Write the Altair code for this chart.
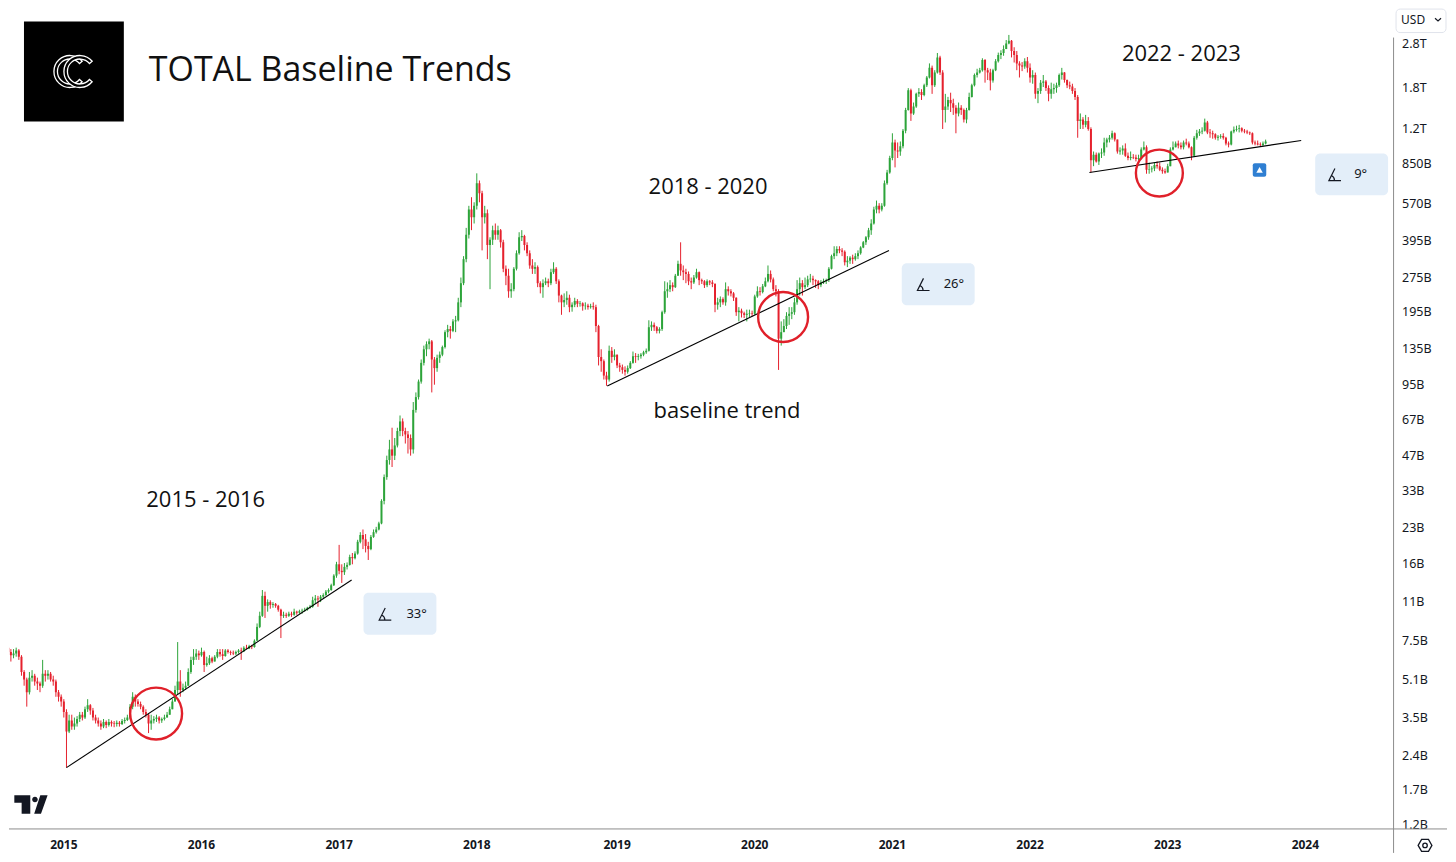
import altair as alt
import pandas as pd

# Weekly TOTAL crypto market cap candles, in billions of USD.
# Each year's lists start on that year's first weekly bar; open = previous close.
first_open = 7.9

close_2014 = [7.0, 6.7, 6.5, 6.6, 6.8, 6.4, 5.5, 5.1, 4.5, 5.2, 5.3, 5.0, 4.9, 4.8, 5.4,
              5.3, 5.4, 5.1, 5.0, 4.5, 4.3, 4.1]
high_2014 = [8.0, 7.1, 6.9, 6.9, 7.0, 6.9, 6.5, 5.6, 5.2, 5.5, 5.6, 5.4, 5.2, 5.0, 6.2,
             5.6, 5.6, 5.5, 5.3, 5.1, 4.6, 4.4]
low_2014 = [6.8, 6.5, 6.1, 6.3, 6.4, 6.2, 5.3, 4.8, 3.9, 4.4, 5.0, 4.8, 4.6, 4.5, 4.7,
            5.0, 5.1, 5.0, 4.8, 4.3, 4.1, 3.9]

close_2015 = [3.7, 3.05, 3.4, 3.2, 3.3, 3.45, 3.6, 3.5, 3.8, 3.95, 3.75, 3.5, 3.4,
              3.3, 3.2, 3.35, 3.25, 3.35, 3.3, 3.28, 3.32, 3.28, 3.38, 3.42, 3.5, 3.9,
              4.3, 4.1, 4.0, 3.9, 3.7, 3.6, 3.3, 3.4, 3.45, 3.5, 3.4, 3.45, 3.5,
              3.6, 3.8, 4.1, 4.6, 5.0, 4.6, 4.7, 4.8, 5.5, 6.2, 6.4, 6.6, 6.5]
high_2015 = [4.2, 3.8, 3.6, 3.6, 3.5, 3.55, 3.7, 3.7, 3.9, 4.2, 4.0, 3.85, 3.6,
             3.5, 3.4, 3.45, 3.4, 3.45, 3.4, 3.38, 3.4, 3.38, 3.45, 3.5, 3.6, 4.0,
             4.5, 4.4, 4.2, 4.1, 3.95, 3.8, 3.65, 3.6, 3.55, 3.6, 3.55, 3.5, 3.6,
             3.7, 3.9, 4.2, 4.8, 7.4, 5.6, 4.9, 5.0, 5.7, 6.4, 6.9, 6.9, 6.8]
low_2015 = [3.5, 2.13, 3.0, 3.1, 3.1, 3.2, 3.35, 3.4, 3.45, 3.7, 3.6, 3.4, 3.3,
            3.2, 3.1, 3.15, 3.15, 3.2, 3.2, 3.18, 3.2, 3.2, 3.25, 3.3, 3.38, 3.45,
            3.8, 3.9, 3.9, 3.8, 3.6, 3.5, 3.0, 3.1, 3.3, 3.35, 3.3, 3.32, 3.4,
            3.5, 3.6, 3.8, 4.1, 4.4, 4.3, 4.5, 4.6, 4.8, 5.4, 5.9, 6.2, 6.2]

close_2016 = [6.7, 5.9, 6.0, 6.3, 6.1, 6.4, 6.7, 6.55, 6.45, 6.8, 6.7, 6.65, 6.6,
              6.7, 6.8, 6.75, 7.0, 6.95, 7.1, 7.05, 7.5, 8.6, 9.6, 11.7, 10.6, 11.0,
              10.7, 10.8, 10.6, 10.2, 9.6, 9.7, 9.6, 9.8, 9.7, 10.0, 9.9, 10.05, 10.1,
              10.2, 10.4, 10.5, 11.2, 11.4, 11.3, 11.6, 11.8, 12.2, 12.4, 13.0, 14.3, 16.0]
high_2016 = [7.0, 6.8, 6.4, 6.5, 6.4, 6.5, 6.9, 6.9, 6.9, 6.9, 6.9, 6.8, 6.8,
             6.8, 6.9, 7.0, 7.1, 7.2, 7.2, 7.2, 7.6, 8.9, 10.0, 12.4, 12.2, 11.3,
             11.2, 11.0, 10.9, 10.7, 10.3, 10.0, 9.9, 10.0, 10.0, 10.3, 10.1, 10.2, 10.3,
             10.4, 10.5, 10.7, 11.6, 11.8, 11.7, 11.8, 12.0, 12.4, 12.6, 13.2, 14.5, 16.4]
low_2016 = [6.4, 5.5, 5.8, 5.9, 6.0, 6.1, 6.3, 6.4, 6.2, 6.4, 6.6, 6.5, 6.5,
            6.5, 6.6, 6.2, 6.7, 6.9, 6.9, 6.9, 7.0, 7.5, 8.5, 9.5, 9.4, 10.0,
            10.3, 10.4, 10.4, 10.0, 7.7, 9.4, 9.4, 9.5, 9.5, 9.6, 9.7, 9.8, 9.8,
            10.0, 10.1, 10.3, 10.4, 10.8, 10.5, 11.0, 11.4, 11.7, 12.0, 12.3, 12.9, 14.0]

close_2017 = [15.0, 14.8, 15.6, 15.9, 17.2, 17.0, 17.8, 20.0, 21.4, 20.5, 19.2, 18.6, 21.0,
              22.0, 22.6, 24.0, 30.0, 38, 45, 50, 47, 52, 60, 66, 60, 58,
              56, 50, 74, 84, 98, 118, 135, 142, 146, 122, 112, 124, 128,
              138, 160, 165, 162, 178, 180, 215, 260, 330, 420, 540, 500, 560]
high_2017 = [19.4, 16.0, 16.2, 16.3, 17.6, 17.9, 18.2, 20.4, 22.0, 22.6, 21.6, 20.0, 21.4,
             22.6, 23.2, 24.4, 30.5, 39, 47, 55, 62, 56, 62, 70, 68, 62,
             60, 58, 80, 88, 100, 122, 140, 146, 150, 148, 125, 128, 132,
             140, 163, 172, 170, 182, 188, 225, 275, 340, 450, 560, 610, 580]
low_2017 = [14.5, 13.3, 14.4, 15.2, 15.8, 16.0, 16.8, 17.6, 19.7, 18.6, 18.0, 16.7, 18.4,
            20.8, 21.7, 22.4, 23.8, 29, 37, 43, 42, 45, 51, 57, 57, 53,
            48, 47, 48, 72, 82, 96, 115, 126, 135, 88, 95, 108, 118,
            126, 136, 152, 150, 160, 160, 178, 205, 255, 320, 405, 440, 470]

close_2018 = [700, 634, 500, 520, 380, 400, 440, 420, 440, 390, 300, 280, 240,
              245, 300, 350, 410, 415, 380, 350, 310, 300, 305, 260, 250, 260,
              265, 260, 290, 300, 265, 230, 215, 220, 225, 205, 210, 218, 212,
              213, 207, 208, 205, 207, 205, 170, 125, 120, 104, 100, 133, 125, 128]
high_2018 = [773, 720, 650, 560, 540, 410, 460, 470, 460, 445, 400, 310, 300,
             260, 305, 360, 431, 440, 420, 390, 360, 330, 320, 310, 265, 270,
             275, 272, 300, 320, 305, 270, 232, 235, 240, 232, 215, 225, 222,
             218, 215, 215, 212, 212, 215, 210, 172, 135, 122, 108, 140, 138, 135]
low_2018 = [540, 580, 360, 470, 330, 245, 380, 400, 400, 370, 290, 255, 225,
            225, 240, 295, 345, 395, 360, 340, 300, 285, 285, 250, 235, 225,
            255, 250, 255, 285, 258, 215, 190, 205, 210, 195, 196, 205, 205,
            206, 198, 200, 200, 202, 200, 160, 115, 108, 100, 94, 98, 118, 121]

close_2019 = [115, 113, 110, 108, 112, 118, 126, 125, 126, 128, 131, 133,
              168, 172, 168, 162, 165, 195, 240, 245, 255, 250, 280, 315, 295,
              290, 285, 265, 262, 275, 290, 268, 265, 255, 265, 262, 258, 210, 215,
              222, 215, 245, 240, 235, 225, 195, 198, 193, 190, 192, 193, 192]
high_2019 = [128, 118, 116, 114, 115, 120, 132, 130, 129, 130, 133, 136,
             180, 178, 176, 170, 168, 198, 265, 262, 268, 262, 285, 325, 390,
             310, 300, 292, 275, 282, 300, 292, 272, 268, 270, 268, 268, 260, 225,
             228, 226, 262, 252, 245, 238, 226, 205, 202, 196, 200, 200, 198]
low_2019 = [112, 108, 106, 104, 106, 111, 117, 118, 121, 123, 126, 129,
            132, 162, 162, 158, 158, 162, 192, 225, 238, 240, 248, 280, 280,
            268, 260, 255, 245, 258, 272, 255, 258, 248, 250, 255, 250, 195, 200,
            205, 210, 208, 230, 228, 218, 188, 178, 185, 184, 178, 186, 187]

close_2020 = [228, 240, 238, 252, 265, 285, 270, 245, 240, 150, 160, 170, 188,
              192, 195, 215, 245, 260, 250, 255, 270, 272, 268, 265, 255, 262,
              265, 268, 300, 340, 350, 365, 360, 355, 320, 325, 335, 330, 340,
              350, 370, 390, 410, 440, 470, 540, 560, 540, 560, 700, 780, 900]
high_2020 = [232, 252, 250, 258, 275, 310, 295, 275, 255, 245, 178, 182, 195,
             205, 205, 225, 268, 275, 268, 275, 280, 285, 280, 270, 268, 268,
             272, 272, 305, 345, 375, 375, 375, 368, 360, 340, 340, 345, 350,
             360, 375, 395, 415, 450, 490, 555, 590, 575, 575, 720, 800, 920]
low_2020 = [190, 225, 230, 235, 250, 262, 262, 240, 228, 110, 140, 160, 165,
            172, 182, 190, 210, 230, 230, 245, 250, 262, 255, 248, 245, 250,
            258, 258, 263, 298, 330, 340, 350, 340, 310, 305, 315, 315, 325,
            330, 345, 368, 380, 400, 420, 465, 520, 520, 530, 555, 690, 770]

close_2021 = [1050, 970, 960, 1010, 1180, 1450, 1760, 1400, 1500, 1700, 1730, 1680, 1850,
              2000, 2200, 1850, 2100, 2440, 2100, 1450, 1500, 1600, 1550, 1480, 1400, 1480,
              1450, 1320, 1450, 1650, 1850, 2050, 2100, 2150, 2380, 2150, 2100, 1940, 2150,
              2350, 2500, 2550, 2650, 2800, 2880, 2600, 2500, 2300, 2250, 2230, 2350, 2200]
high_2021 = [1150, 1080, 1050, 1060, 1200, 1480, 1800, 1790, 1560, 1720, 1800, 1780, 1880,
             2030, 2300, 2250, 2150, 2550, 2480, 2150, 1700, 1650, 1720, 1620, 1520, 1560,
             1520, 1470, 1480, 1720, 1880, 2080, 2180, 2200, 2420, 2400, 2200, 2180, 2180,
             2400, 2560, 2620, 2750, 2900, 3050, 2900, 2700, 2600, 2350, 2330, 2420, 2450]
low_2021 = [880, 820, 900, 920, 990, 1150, 1440, 1300, 1380, 1480, 1650, 1600, 1660,
            1820, 1980, 1700, 1820, 2080, 2050, 1200, 1280, 1450, 1420, 1380, 1150, 1360,
            1380, 1280, 1270, 1440, 1640, 1830, 2000, 2080, 2120, 1900, 1950, 1760, 1900,
            2130, 2320, 2400, 2480, 2650, 2780, 2440, 2320, 2150, 2000, 2130, 2180, 2100]

close_2022 = [2000, 2050, 1700, 1750, 1900, 1920, 1800, 1700, 1780, 1800, 1850, 2050, 2100,
              1950, 1850, 1830, 1750, 1650, 1300, 1320, 1250, 1300, 1200, 880, 930, 870,
              940, 950, 1050, 1080, 1100, 1150, 1080, 960, 970, 990, 920, 900, 910,
              905, 890, 900, 980, 1000, 800, 805, 810, 840, 830, 800, 790, 780]
high_2022 = [2300, 2150, 2100, 1800, 1950, 2050, 1950, 1850, 1900, 1880, 1900, 2080, 2200,
             2110, 1960, 1920, 1880, 1800, 1680, 1400, 1350, 1380, 1350, 1220, 960, 950,
             950, 990, 1100, 1100, 1130, 1180, 1160, 1080, 1000, 1020, 1040, 950, 960,
             935, 930, 930, 1000, 1060, 1020, 860, 830, 860, 870, 860, 820, 810]
low_2022 = [1900, 1880, 1620, 1550, 1700, 1820, 1750, 1580, 1620, 1700, 1720, 1820, 1960,
            1900, 1800, 1780, 1700, 1600, 1100, 1200, 1200, 1220, 1180, 780, 830, 860,
            840, 900, 920, 1000, 1050, 1080, 1060, 940, 930, 930, 910, 880, 880,
            890, 870, 880, 890, 970, 770, 770, 780, 790, 810, 790, 770, 770]

close_2023 = [830, 980, 1000, 1040, 1020, 1000, 1050, 1040, 1000, 920, 1100, 1150, 1170,
              1180, 1280, 1160, 1150, 1140, 1100, 1110, 1120, 1100, 1040, 1030, 1170, 1190,
              1200, 1210, 1180, 1170, 1160, 1150, 1050, 1040, 1030, 1025, 1040, 1060]
high_2023 = [850, 1000, 1060, 1060, 1070, 1050, 1070, 1090, 1060, 1010, 1120, 1190, 1200,
             1220, 1330, 1300, 1200, 1180, 1150, 1130, 1140, 1150, 1110, 1060, 1180, 1230,
             1240, 1250, 1220, 1200, 1190, 1170, 1160, 1070, 1070, 1050, 1060, 1080]
low_2023 = [780, 830, 970, 1000, 990, 980, 980, 1020, 990, 880, 910, 1080, 1120,
            1140, 1170, 1140, 1100, 1090, 1080, 1070, 1090, 1080, 1020, 1000, 1020, 1150,
            1170, 1160, 1160, 1150, 1140, 1130, 1030, 1020, 1020, 1010, 1010, 1030]

WEEKLY = [
    ("2014-08-04", close_2014, high_2014, low_2014),
    ("2015-01-05", close_2015, high_2015, low_2015),
    ("2016-01-04", close_2016, high_2016, low_2016),
    ("2017-01-02", close_2017, high_2017, low_2017),
    ("2018-01-01", close_2018, high_2018, low_2018),
    ("2019-01-07", close_2019, high_2019, low_2019),
    ("2020-01-06", close_2020, high_2020, low_2020),
    ("2021-01-04", close_2021, high_2021, low_2021),
    ("2022-01-03", close_2022, high_2022, low_2022),
    ("2023-01-02", close_2023, high_2023, low_2023),
]

# baseline trend lines (start, end) drawn on the chart
trend_dates = [("2015-01-12", "2017-02-04"), ("2018-12-12", "2020-12-26"), ("2022-06-09", "2023-12-21")]
trend_values = [(2.13, 13.7), (93.7, 360), (780, 1071)]

# red circles where price retested the baseline
circle_dates = ["2015-09-06", "2020-03-21", "2022-12-11"]
circle_values = [3.64, 186, 775]

# price scale ticks (billions) and their labels
y_ticks = [1.2, 1.7, 2.4, 3.5, 5.1, 7.5, 11, 16, 23, 33, 47, 67, 95, 135, 195, 275,
           395, 570, 850, 1200, 1800, 2800]
y_tick_labels = ["1.2B", "1.7B", "2.4B", "3.5B", "5.1B", "7.5B", "11B", "16B", "23B", "33B",
                 "47B", "67B", "95B", "135B", "195B", "275B", "395B", "570B", "850B",
                 "1.2T", "1.8T", "2.8T"]
# time scale labels sit on the first weekly bar of each year
year_tick_dates = ["2015-01-05", "2016-01-04", "2017-01-02", "2018-01-01", "2019-01-07",
                   "2020-01-06", "2021-01-04", "2022-01-03", "2023-01-02", "2024-01-01"]
year_tick_labels = ["2015", "2016", "2017", "2018", "2019", "2020", "2021", "2022", "2023", "2024"]

GREEN = "#2da43a"
RED = "#e5212d"
CIRCLE_RED = "#e0202a"
INK = "#131722"
LINE_GRAY = "#8c8c8c"
BOX_BLUE = "#e3eef9"
AXIS_FONT = "Noto Sans"
TEXT_FONT = "Open Sans"

WIDTH = 1386
HEIGHT = 821
RIGHT_EDGE = 1440
BOTTOM_EDGE = 845.5

X_SCALE = alt.Scale(
    domain=[alt.DateTime(year=2014, month=8, date=13, utc=True),
            alt.DateTime(year=2024, month=8, date=20, utc=True)],
    nice=False, padding=0,
)
Y_SCALE = alt.Scale(type="log", domain=[1.1651, 3960.9], nice=False, zero=False, padding=0)
DIR_COLOR = alt.Color("dir:N", scale=alt.Scale(domain=["up", "down"], range=[GREEN, RED]), legend=None)

DUMMY = pd.DataFrame({"k": [0]})

TV_LOGO = ("M-0.98,-0.55 H-0.04 V0.55 H-0.55 V-0.1 H-0.98 Z "
           "M0.07,-0.29 A0.165,0.165 0 1,0 0.4,-0.29 A0.165,0.165 0 1,0 0.07,-0.29 Z "
           "M0.55,-0.55 H0.98 L0.59,0.55 H0.19 Z")
ANGLE_ICON = "M0.1,-0.9 L-0.7,0.7 L0.9,0.7 M0.05,0.7 A0.75,0.75 0 0,0 -0.365,0.029"
HEXAGON = "M-1,0 L-0.5,-0.866 L0.5,-0.866 L1,0 L0.5,0.866 L-0.5,0.866 Z"
CHEVRON = "M-1,-0.45 L0,0.45 L1,-0.45"


def build_candles() -> pd.DataFrame:
    rows = []
    prev_close = first_open
    for start, closes, highs, lows in WEEKLY:
        dates = pd.date_range(start, periods=len(closes), freq="7D")
        for day, close, high, low in zip(dates, closes, highs, lows):
            rows.append(
                {
                    "date": day.strftime("%Y-%m-%d"),
                    "open": prev_close,
                    "close": close,
                    "high": max(high, prev_close, close),
                    "low": min(low, prev_close, close),
                    "dir": "up" if close >= prev_close else "down",
                }
            )
            prev_close = close
    return pd.DataFrame(rows)


def build_trends() -> pd.DataFrame:
    rows = []
    for seg, (dates, values) in enumerate(zip(trend_dates, trend_values)):
        for day, value in zip(dates, values):
            rows.append({"seg": seg, "date": day, "value": value})
    return pd.DataFrame(rows)


def text_at(text, x, y, size, font=TEXT_FONT, align="center", weight="normal", color="#111111"):
    return (
        alt.Chart(DUMMY)
        .mark_text(text=text, font=font, fontSize=size, align=align, baseline="middle",
                   fontWeight=weight, color=color)
        .encode(x=alt.value(x), y=alt.value(y))
    )


def rect_at(x, x2, y, y2, **style):
    return (
        alt.Chart(DUMMY)
        .mark_rect(**style)
        .encode(x=alt.value(x), x2=alt.value(x2), y=alt.value(y), y2=alt.value(y2))
    )


def symbol_at(shape, x, y, size, **style):
    return (
        alt.Chart(DUMMY)
        .mark_point(shape=shape, size=size, opacity=1, **style)
        .encode(x=alt.value(x), y=alt.value(y))
    )


def angle_box(left, top, bottom, label, icon_x, text_x):
    mid = (top + bottom) / 2
    return [
        rect_at(left, left + 73, top, bottom, color=BOX_BLUE, cornerRadius=5),
        symbol_at(ANGLE_ICON, icon_x, mid + 1, 230, filled=False, stroke=INK, strokeWidth=1.2),
        text_at(label, text_x, mid, 13, font=AXIS_FONT, align="left", color=INK),
    ]


candles = build_candles()
x_enc = alt.X("date:T", scale=X_SCALE, axis=None)

wicks = alt.Chart(candles).mark_rule(strokeWidth=1, clip=True).encode(
    x=x_enc,
    y=alt.Y("low:Q", scale=Y_SCALE, axis=None),
    y2="high:Q",
    color=DIR_COLOR,
)
bodies = alt.Chart(candles).mark_bar(width=2, clip=True).encode(
    x=x_enc,
    y=alt.Y("open:Q", scale=Y_SCALE, axis=None),
    y2="close:Q",
    color=DIR_COLOR,
)
trends = alt.Chart(build_trends()).mark_line(color="#000000", strokeWidth=1.1, clip=True).encode(
    x=x_enc,
    y=alt.Y("value:Q", scale=Y_SCALE, axis=None),
    detail="seg:N",
)

circle_diameters = [52, 50, 47]
circles = [
    alt.Chart(pd.DataFrame({"date": [day], "value": [value]}))
    .mark_point(shape="circle", filled=False, size=diam ** 2, stroke=CIRCLE_RED,
                strokeWidth=2.4, opacity=1)
    .encode(x=x_enc, y=alt.Y("value:Q", scale=Y_SCALE, axis=None))
    for day, value, diam in zip(circle_dates, circle_values, circle_diameters)
]

y_labels = (
    alt.Chart(pd.DataFrame({"value": y_ticks, "label": y_tick_labels}))
    .mark_text(align="left", baseline="middle", font=AXIS_FONT, fontSize=12.5, color=INK)
    .encode(x=alt.value(WIDTH + 9), y=alt.Y("value:Q", scale=Y_SCALE, axis=None), text="label:N")
)
x_labels = (
    alt.Chart(pd.DataFrame({"date": year_tick_dates, "label": year_tick_labels}))
    .mark_text(align="center", baseline="middle", font=AXIS_FONT, fontSize=12,
               fontWeight="bold", color=INK)
    .encode(x=x_enc, y=alt.value(838), text="label:N")
)

logo = [
    rect_at(15, 115, 13, 113, color="#000000"),
    alt.Chart(DUMMY).mark_arc(theta=2.27, theta2=7.16, radius=16, radius2=12.5, fill="#000000",
                              stroke="#ffffff", strokeWidth=1.3).encode(x=alt.value(61), y=alt.value(63)),
    alt.Chart(DUMMY).mark_arc(theta=2.27, theta2=7.16, radius=16, radius2=12.5, fill="#000000",
                              stroke="#ffffff", strokeWidth=1.3).encode(x=alt.value(71), y=alt.value(63)),
]

annotations = [
    text_at("TOTAL Baseline Trends", 140, 63, 34, align="left"),
    text_at("2015 - 2016", 197, 492, 22),
    text_at("2018 - 2020", 700, 179, 22),
    text_at("baseline trend", 719, 403, 22),
    text_at("2022 - 2023", 1174, 45, 22),
]

boxes = (
    angle_box(355, 585, 627, "33°", 376, 398)
    + angle_box(894, 255, 297, "26°", 915, 936)
    + angle_box(1308, 145, 187, "9°", 1327, 1347)
)

chrome = [
    rect_at(1245.5, 1259, 155, 168.5, color="#2f7fd2", cornerRadius=2),
    symbol_at("triangle-up", 1252.3, 161.5, 42, filled=True, color="#ffffff"),
    symbol_at(TV_LOGO, 22, 797, 1156, filled=True, color=INK, strokeWidth=0),
    rect_at(0, RIGHT_EDGE, 821.5, BOTTOM_EDGE, color="#ffffff"),
    alt.Chart(DUMMY).mark_rule(color=LINE_GRAY, strokeWidth=1).encode(
        x=alt.value(0), x2=alt.value(RIGHT_EDGE), y=alt.value(821.5)),
    alt.Chart(DUMMY).mark_rule(color=LINE_GRAY, strokeWidth=1).encode(
        x=alt.value(WIDTH + 0.5), y=alt.value(29), y2=alt.value(BOTTOM_EDGE)),
    symbol_at(HEXAGON, 1418, 838, 190, filled=False, stroke=INK, strokeWidth=1.3),
    symbol_at("circle", 1418, 838, 20, filled=False, stroke=INK, strokeWidth=1.3),
    rect_at(1389, 1439, 0.5, 24, fill="#ffffff", stroke="#e0e3eb", strokeWidth=1, cornerRadius=4),
    text_at("USD", 1394, 11, 12, font=AXIS_FONT, align="left", color=INK),
    symbol_at(CHEVRON, 1431, 11, 36, filled=False, stroke=INK, strokeWidth=1.2),
]

chart = (
    alt.layer(wicks, bodies, trends, *circles, y_labels, *annotations, *boxes, *logo,
              *chrome, x_labels)
    .properties(width=WIDTH, height=HEIGHT, padding=0, background="#ffffff")
    .configure_view(stroke=None)
)

chart.save("out.html", embed_options={"renderer": "svg", "actions": False})
